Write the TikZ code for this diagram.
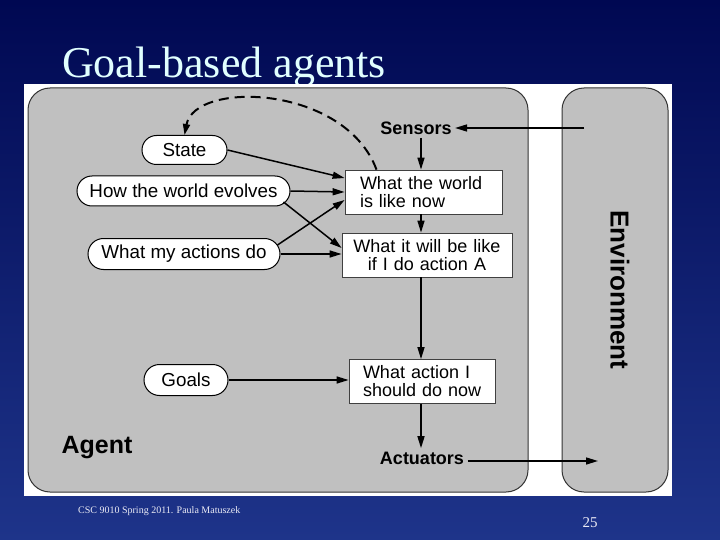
\documentclass[tikz,border=0pt]{standalone}
\usepackage{fontspec}
\setmainfont{Liberation Serif}
\newfontfamily\hv{Liberation Sans}
\usetikzlibrary{shapes.misc,arrows.meta}
\definecolor{bgtop}{RGB}{0,8,82}
\definecolor{bgbot}{RGB}{30,52,138}
\definecolor{titlec}{RGB}{225,255,255}
\definecolor{panel}{RGB}{192,192,192}
\definecolor{foot}{RGB}{235,235,245}
\begin{document}
\begin{tikzpicture}[x=1pt,y=-1pt,
  pill/.style={draw=black, line width=1pt, fill=white, rounded rectangle, inner sep=0pt,
    font=\hv\fontsize{18.8}{18}\selectfont},
  box/.style={draw=black!75, line width=0.8pt, fill=white, inner ysep=0pt, minimum height=44pt,
    font=\hv\fontsize{18}{18}\selectfont},
  conn/.style={line width=1.5pt, -{Triangle[length=12pt,width=7pt]}},
  lbl/.style={font=\hv\bfseries\fontsize{18}{20}\selectfont},
  bigl/.style={font=\hv\bfseries\fontsize{26}{28}\selectfont},
  panelbox/.style={draw=black!80, line width=1pt, fill=panel, rounded corners=22pt}
]
\useasboundingbox (0,0) rectangle (720,540);
\shade[top color=bgtop, bottom color=bgbot] (0,0) rectangle (720,540);
\node[anchor=base west, text=titlec, inner sep=0pt, font=\fontsize{44}{48}\selectfont] (title) at (62,78) {Goal-based agents};

% picture area
\fill[white] (24,84) rectangle (672,496);
\draw[panelbox] (28,88) rectangle (528,492);
\draw[panelbox] (562,88) rectangle (668,492);

% labels
\node[lbl] (sensors) at (416,128) {Sensors};
\node[lbl] (actuators) at (422,458) {Actuators};
\node[bigl, font=\hv\bfseries\fontsize{25}{28}\selectfont] (agent) at (97,448) {Agent};
\node[bigl, rotate=-90] (env) at (620,290) {Environment};

% pills
\node[pill, minimum width=85pt, minimum height=29pt] (state) at (184.5,150) {State};
\node[pill, minimum width=213pt, minimum height=30pt] (how) at (183.5,191) {How the world evolves};
\node[pill, minimum width=192pt, minimum height=31pt] (acts) at (184,254) {What my actions do};
\node[pill, minimum width=84pt, minimum height=31pt] (goals) at (186,380) {Goals};

% boxes
\node[box, inner xsep=15pt, text width=127pt, align=left] (b1) at (423.5,192) {What the world\\is like now};
\node[box, inner xsep=8pt, text width=154pt, align=center] (b2) at (427,255) {What it will be like\\if I do action A};
\node[box, inner xsep=10pt, text width=126pt, align=left] (b3) at (422,381.5) {\hspace*{4pt}What action I\\\hspace*{4pt}should do now};

% helper coordinates
\coordinate (spine) at (421,0);
\coordinate (envin) at (584,128);
\coordinate (envout) at (598,461);

% connectors
\draw[conn] (envin) -- (sensors.east);
\draw[conn] (sensors.south -| spine) -- (b1.north -| spine);
\draw[conn] (b1.south -| spine) -- (b2.north -| spine);
\draw[conn] (b2.south -| spine) -- (b3.north -| spine);
\draw[conn] (b3.south -| spine) -- (actuators.north -| spine);
\draw[conn] (actuators.east |- envout) -- (envout);

\draw[conn] (state.east) -- ([yshift=14pt]b1.west);
\draw[conn] (how.east) -- (b1.west);
\draw[conn] ([xshift=-7pt,yshift=-11pt]how.east) -- ([yshift=7pt]b2.west);
\draw[conn] ([xshift=-3pt,yshift=9pt]acts.east) -- ([yshift=-8pt]b1.west);
\draw[conn] (acts.east) -- (b2.west |- acts.east);
\draw[conn] (goals.east) -- (b3.west |- goals.east);

\draw[line width=2pt, dash pattern=on 10pt off 6pt, -{Triangle[length=11pt,width=7pt]}]
  ([xshift=-47pt]b1.north) .. controls (345,85) and (195,80) .. (state.north);

% footer
\node[anchor=west, text=foot, inner sep=0pt, font=\fontsize{10}{11}\selectfont] (foottext) at (78,511) {CSC 9010 Spring 2011. Paula Matuszek};
\node[text=foot, inner sep=0pt, font=\fontsize{15}{17}\selectfont] (page) at (590,523) {25};
\end{tikzpicture}
\end{document}
